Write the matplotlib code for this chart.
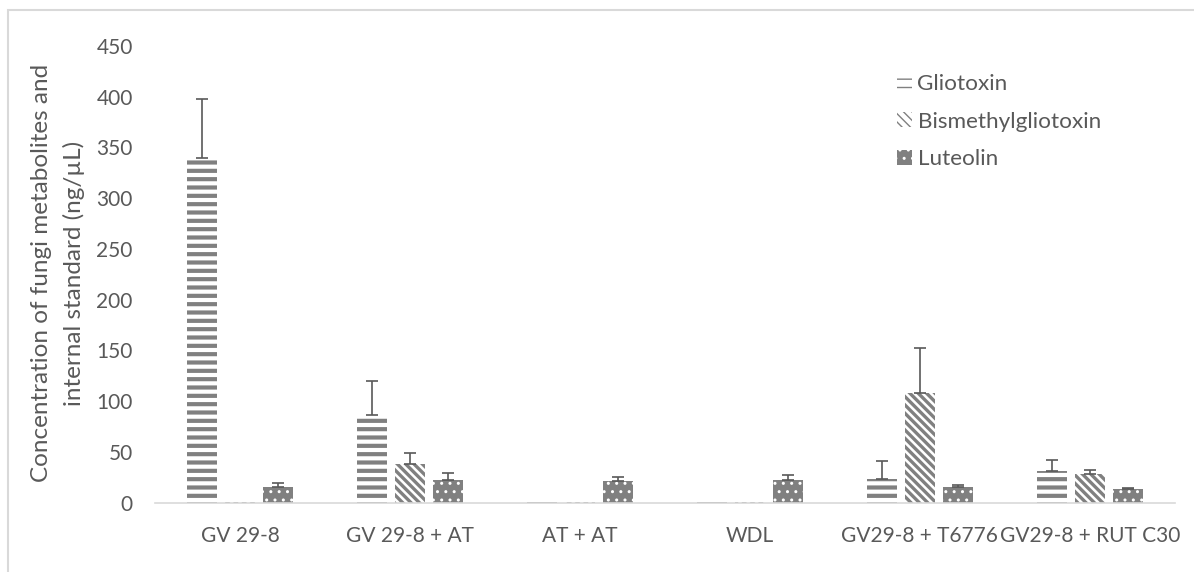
"""
Fungi metabolite concentrations per co-culture, grouped bar chart
with upward error bars (Excel-style hatched grey bars).
"""

import numpy as np
import matplotlib
matplotlib.use("Agg")
import matplotlib.pyplot as plt
from matplotlib.patches import Rectangle

categories = ["GV 29-8", "GV 29-8 + AT", "AT + AT", "WDL",
              "GV29-8 + T6776", "GV29-8 + RUT C30"]
series = ["Gliotoxin", "Bismethylgliotoxin", "Luteolin"]

gliotoxin = [340, 86, 0.8, 0.8, 23, 31]
gliotoxin_err = [58, 34, 0, 0, 18, 11]
bismethyl = [0.8, 38, 0.8, 0.8, 108, 28]
bismethyl_err = [0, 11, 0, 0, 44, 4]
luteolin = [15, 22, 21, 22, 15, 13]
luteolin_err = [4.5, 7, 4.5, 5, 2.5, 1.5]

yticks = [0, 50, 100, 150, 200, 250, 300, 350, 400, 450]

plt.rcParams['font.family'] = ['Lato', 'DejaVu Sans']
grey = '#808080'
text_grey = '#595959'

fig = plt.figure(figsize=(11.94, 5.72), dpi=100)
ax = fig.add_axes([0.1298, 0.1212, 0.8542, 0.7984])

x = np.arange(len(categories))
width = 0.176
offset = 0.224

styles = [
    dict(facecolor='white', edgecolor=grey, hatch='--', hw=3.0),
    dict(facecolor='white', edgecolor=grey, hatch='\\\\\\\\', hw=2.4),
    dict(facecolor=grey, edgecolor='white', hatch='..', hw=1.0),
]
values = [gliotoxin, bismethyl, luteolin]
errors = [gliotoxin_err, bismethyl_err, luteolin_err]

handles = []
for i, (vals, errs, st) in enumerate(zip(values, errors, styles)):
    pos = x + (i - 1) * offset
    with plt.rc_context({'hatch.linewidth': st['hw']}):
        bars = ax.bar(pos, vals, width, facecolor=st['facecolor'],
                      edgecolor=st['edgecolor'], hatch=st['hatch'],
                      linewidth=0, label=series[i], zorder=2)
    handles.append(bars)
    vals = np.array(vals, dtype=float)
    errs = np.array(errs, dtype=float)
    keep = errs > 0
    ax.errorbar(pos[keep], vals[keep],
                yerr=[np.zeros(keep.sum()), errs[keep]],
                fmt='none', ecolor=text_grey, elinewidth=1.2,
                capsize=4.5, capthick=1.2, zorder=3)

ax.set_xlim(-0.5, len(categories) - 0.5)
ax.set_ylim(0, 450)
ax.set_yticks(yticks)
ax.set_xticks(x)
ax.set_xticklabels(categories)
ax.tick_params(axis='both', length=0, colors=text_grey, labelsize=15)
ax.tick_params(axis='x', pad=17)
ax.tick_params(axis='y', pad=16)

for side in ['top', 'right', 'left']:
    ax.spines[side].set_visible(False)
ax.spines['bottom'].set_color('#d9d9d9')
ax.spines['bottom'].set_linewidth(1.2)

fig.text(58 / 1194, 1 - 273 / 572,
         'Concentration of fungi metabolites and\ninternal standard (ng/µL)',
         rotation=90, ha='center', va='center', multialignment='center',
         color=text_grey, fontsize=17.5, linespacing=1.65)

ax.legend(handles=handles, loc='upper left', frameon=False,
          bbox_to_anchor=(886 / 1194, 1 - 63 / 572),
          bbox_transform=fig.transFigure, borderpad=0,
          handlelength=0.65, handleheight=0.65, handletextpad=0.25,
          labelspacing=0.78, fontsize=16.2, labelcolor=text_grey)

# chart area border (Excel frame), cut off on right and bottom
fig.patches.append(Rectangle((8 / 1194, -0.1), 1.2, 1 - 10 / 572 + 0.1,
                             transform=fig.transFigure, fill=False,
                             edgecolor='#d9d9d9', linewidth=1.5))

fig.savefig('out.png', dpi=100)
